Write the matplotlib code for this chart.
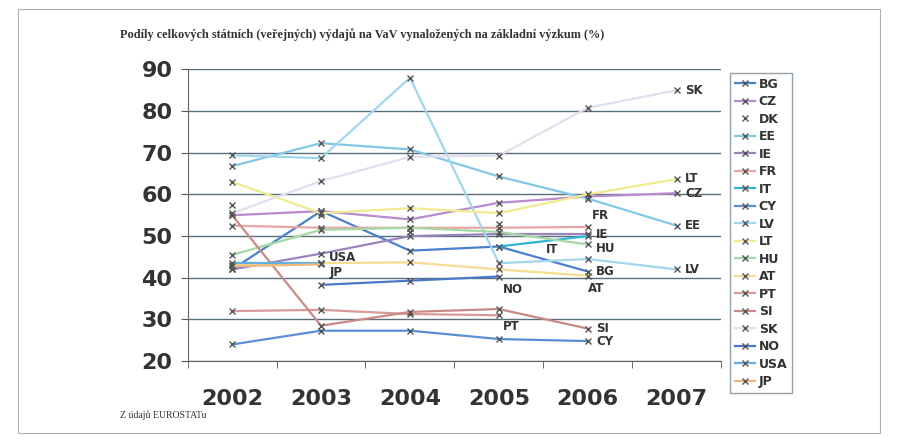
import matplotlib.pyplot as plt
import numpy as np
from matplotlib.patches import Rectangle

years = ['2002', '2003', '2004', '2005', '2006', '2007']
nan = np.nan

# series values (% of state R&D spent on basic research)
BG = [42.0, 56.0, 46.5, 47.5, 41.5, nan]
CZ = [55.0, 56.0, 54.0, 58.0, 59.5, 60.3]
DK = [57.5, 55.0, 51.0, 53.0, nan, nan]
EE = [66.8, 72.3, 70.8, 64.3, 59.0, 52.5]
IE = [42.0, 45.8, 50.0, 50.5, 50.5, nan]
FR = [52.5, 52.0, 52.0, 52.0, 52.2, nan]
IT = [nan, nan, nan, 47.5, 50.0, nan]
CY = [24.0, 27.3, 27.3, 25.3, 24.8, nan]
LV = [69.4, 68.7, 88.0, 43.5, 44.5, 42.0]
LT = [63.0, 55.5, 56.7, 55.5, 60.0, 63.7]
HU = [45.5, 51.5, 52.0, 51.0, 48.0, nan]
AT = [43.0, 43.5, 43.7, 42.0, 40.5, nan]
PT = [32.0, 32.3, 31.3, 31.0, nan, nan]
SI = [55.0, 28.5, 31.8, 32.5, 27.8, nan]
SK = [55.5, 63.2, 69.0, 69.3, 80.8, 85.0]
NO = [nan, 38.3, 39.3, 40.3, nan, nan]
USA = [43.5, 43.5, nan, nan, nan, nan]
JP = [42.8, 43.2, nan, nan, nan, nan]

names = ['BG', 'CZ', 'DK', 'EE', 'IE', 'FR', 'IT', 'CY', 'LV', 'LT', 'HU',
         'AT', 'PT', 'SI', 'SK', 'NO', 'USA', 'JP']
series = [BG, CZ, DK, EE, IE, FR, IT, CY, LV, LT, HU, AT, PT, SI, SK, NO, USA, JP]
colors = ['#4a80cc', '#b88ad0', '#ffffff', '#80c8e6', '#9a84bc', '#e9a6a6',
          '#2fb4d6', '#5a8fd8', '#a2d6ee', '#f2ea90', '#a6d8a6', '#f6dc90',
          '#d89a9a', '#c98a86', '#e2def0', '#4a78c8', '#62b0e2', '#f2b87a']

# where the end labels sit: (series, year index, dx, dy) in points
end_labels = [('SK', 5, 6, 0), ('LT', 5, 6, 0), ('CZ', 5, 6, 0), ('EE', 5, 6, 0),
              ('LV', 5, 6, 0), ('FR', 4, 3, 8), ('IE', 4, 6, 0), ('HU', 4, 6, -3),
              ('BG', 4, 6, 0), ('AT', 4, 0, -9), ('SI', 4, 6, 0), ('CY', 4, 6, 0),
              ('NO', 3, 3, -9), ('PT', 3, 3, -8), ('IT', 3, 34, -2),
              ('USA', 1, 6, 4), ('JP', 1, 6, -6)]

fig = plt.figure(figsize=(8.98, 4.42), dpi=100)
fig.patches.append(Rectangle((0.02, 0.02), 0.96, 0.96, transform=fig.transFigure,
                             fill=False, edgecolor='#b0b0b0', lw=0.8))
ax = fig.add_axes([0.209, 0.183, 0.594, 0.66])

x = np.arange(len(years))
for name, vals, c in zip(names, series, colors):
    ls = 'none' if name == 'DK' else '-'
    ax.plot(x, vals, color=c, lw=1.6, ls=ls, marker='x', ms=5, mec='#555555',
            mew=1.0, label=name)

for name, i, dx, dy in end_labels:
    v = series[names.index(name)][i]
    ax.annotate(name, (i, v), xytext=(dx, dy), textcoords='offset points',
                ha='left', va='center', fontsize=8.5, fontweight='bold', color='#333333')

ax.set_xlim(-0.5, 5.5)
ax.set_ylim(20, 90)
ax.set_yticks(range(20, 91, 10))
ax.set_xticks(x)
ax.set_xticklabels(years)
ax.set_xticks(np.arange(-0.5, 5.6, 1), minor=True)
ax.tick_params(axis='x', which='major', length=0, pad=20)
ax.tick_params(axis='x', which='minor', length=5, color='#555555')
ax.tick_params(axis='y', length=5, color='#555555', pad=6)
for lab in ax.get_xticklabels() + ax.get_yticklabels():
    lab.set_fontsize(16)
    lab.set_fontweight('bold')
    lab.set_color('#333333')
ax.grid(axis='y', color='#5a6e7a', lw=1.0)
ax.set_axisbelow(True)
for s in ['top', 'right']:
    ax.spines[s].set_visible(False)
ax.spines['left'].set_color('#666666')
ax.spines['bottom'].set_color('#666666')

leg = ax.legend(loc='upper left', bbox_to_anchor=(1.005, 1.01), frameon=True,
                fancybox=False, edgecolor='#7a8a96', fontsize=9, handlelength=1.6,
                handletextpad=0.3, labelspacing=0.36, borderpad=0.4)
for t in leg.get_texts():
    t.set_fontweight('bold')
    t.set_color('#333333')

fig.text(0.134, 0.915, 'Podíly celkových státních (veřejných) výdajů na VaV vynaložených na základní výzkum (%)',
         fontsize=8.8, fontweight='bold', family='Liberation Serif', color='#333333')
fig.text(0.134, 0.055, 'Z údajů EUROSTATu', fontsize=7, family='Liberation Serif', color='#333333')

fig.savefig('out.png', dpi=100)
